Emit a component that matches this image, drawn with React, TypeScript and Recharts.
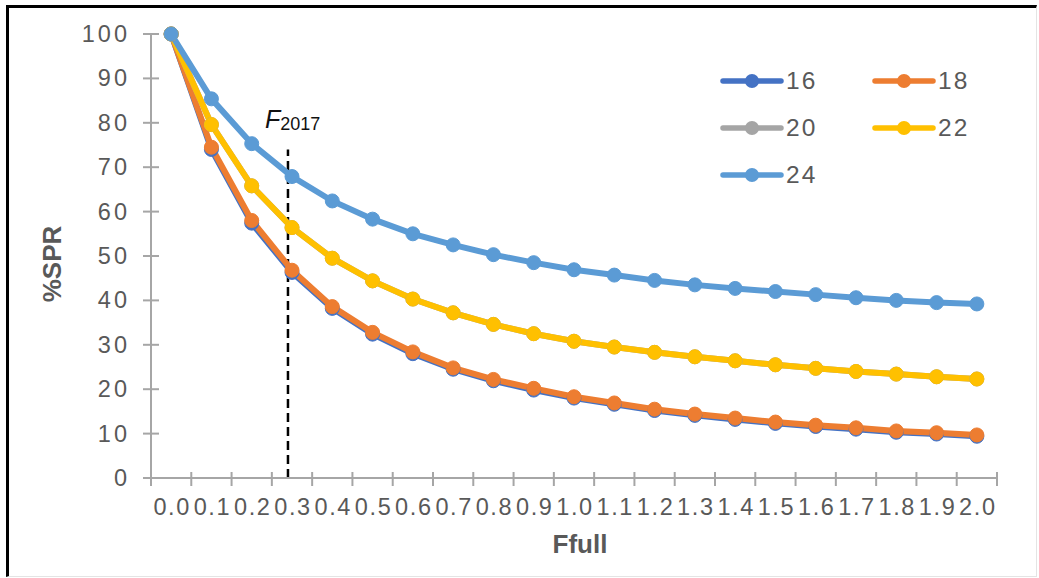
import { Legend, Line, LineChart, ReferenceLine, XAxis, YAxis } from 'recharts'

const fLabels = [
  '0.0', '0.1', '0.2', '0.3', '0.4', '0.5', '0.6', '0.7', '0.8', '0.9', '1.0',
  '1.1', '1.2', '1.3', '1.4', '1.5', '1.6', '1.7', '1.8', '1.9', '2.0',
]

const spr16 = [100, 74.0, 57.4, 46.3, 38.2, 32.4, 28.0, 24.5, 21.9, 19.8, 18.0, 16.6, 15.2, 14.1, 13.2, 12.3, 11.6, 11.0, 10.3, 9.9, 9.4]
const spr18 = [100, 74.5, 58.0, 46.8, 38.6, 32.8, 28.4, 24.8, 22.2, 20.2, 18.3, 16.9, 15.5, 14.4, 13.5, 12.6, 11.9, 11.3, 10.6, 10.2, 9.7]
const spr20 = [100, 79.6, 65.8, 56.4, 49.5, 44.4, 40.3, 37.2, 34.6, 32.5, 30.8, 29.5, 28.3, 27.3, 26.4, 25.5, 24.7, 24.0, 23.4, 22.8, 22.3]
const spr22 = [100, 79.6, 65.8, 56.4, 49.5, 44.4, 40.3, 37.2, 34.6, 32.5, 30.8, 29.5, 28.3, 27.3, 26.4, 25.5, 24.7, 24.0, 23.4, 22.8, 22.3]
const spr24 = [100, 85.4, 75.3, 67.9, 62.4, 58.3, 55.0, 52.5, 50.3, 48.5, 46.9, 45.7, 44.5, 43.5, 42.7, 42.0, 41.3, 40.6, 40.0, 39.5, 39.2]

const seriesNames = ['16', '18', '20', '22', '24']
const seriesValues = [spr16, spr18, spr20, spr22, spr24]
const seriesColors = ['#4472C4', '#ED7D31', '#A5A5A5', '#FFC000', '#5B9BD5']

const yTicks = [0, 10, 20, 30, 40, 50, 60, 70, 80, 90, 100]
const f2017 = 0.29
const f2017Top = 74

const data = fLabels.map((label, i) => {
  const row: Record<string, number | string> = { f: Number(label), label }
  seriesNames.forEach((name, s) => {
    row[`s${name}`] = seriesValues[s][i]
  })
  return row
})

const W = 1039
const H = 578
const AXIS = '#A6A6A6'
const TEXT = '#595959'
const FONT = '"Liberation Sans", Arial, sans-serif'
const PLOT_W = W - 151 - 42
const HALF = PLOT_W / fLabels.length / 2

function XTick({ x, y, index }: { x: number; y: number; index: number }) {
  const last = index === fLabels.length - 1
  return (
    <g>
      <line x1={x - HALF} x2={x - HALF} y1={y - 6} y2={y + 8} stroke={AXIS} strokeWidth={2} />
      {last && <line x1={x + HALF} x2={x + HALF} y1={y - 6} y2={y + 8} stroke={AXIS} strokeWidth={2} />}
      <text x={x + 1} y={y + 37} textAnchor="middle" fontSize={23.5} letterSpacing={1.6} fill={TEXT} fontFamily={FONT}>
        {fLabels[index]}
      </text>
    </g>
  )
}

function YTick({ x, y, payload }: { x: number; y: number; payload: { value: number } }) {
  return (
    <g>
      <line x1={x - 8} x2={x + 8} y1={y} y2={y} stroke={AXIS} strokeWidth={2} />
      <text x={x - 21} y={y + 8} textAnchor="end" fontSize={23.5} letterSpacing={3} fill={TEXT} fontFamily={FONT}>
        {payload.value}
      </text>
    </g>
  )
}

function SeriesLegend() {
  return (
    <div style={{ display: 'grid', gridTemplateColumns: '152px 152px', fontFamily: FONT }}>
      {seriesNames.map((name, i) => (
        <div key={name} style={{ display: 'flex', alignItems: 'center', height: 47 }}>
          <svg width={64} height={16}>
            <line x1={3} x2={61} y1={8} y2={8} stroke={seriesColors[i]} strokeWidth={5.5} strokeLinecap="round" />
            <circle cx={32} cy={8} r={7} fill={seriesColors[i]} />
          </svg>
          <span style={{ fontSize: 24.5, color: TEXT, marginLeft: 2, letterSpacing: 2 }}>{name}</span>
        </div>
      ))}
    </div>
  )
}

export default function App() {
  return (
    <div style={{ position: 'absolute', left: 0, top: 0, width: W, height: H, background: '#fff' }}>
      <LineChart width={W} height={H} data={data} margin={{ top: 34, right: 42, bottom: 0, left: 0 }}>
        <XAxis
          dataKey="f"
          type="number"
          domain={[-0.05, 2.05]}
          ticks={fLabels.map(Number)}
          interval={0}
          height={100}
          tickLine={false}
          tickSize={0}
          tickMargin={0}
          axisLine={{ stroke: AXIS, strokeWidth: 2 }}
          tick={(p: any) => <XTick {...p} />}
          label={(p: any) => (
            <text
              x={p.viewBox.x + 429}
              y={p.viewBox.y + 75}
              textAnchor="middle"
              fontSize={26}
              fontWeight="bold"
              fill={TEXT}
              fontFamily={FONT}
            >
              Ffull
            </text>
          )}
        />
        <YAxis
          width={151}
          domain={[0, 100]}
          ticks={yTicks}
          interval={0}
          tickLine={false}
          tickSize={0}
          tickMargin={0}
          axisLine={{ stroke: AXIS, strokeWidth: 2 }}
          tick={(p: any) => <YTick {...p} />}
          label={(p: any) => {
            const cx = p.viewBox.x + 61
            const cy = p.viewBox.y + 230
            return (
              <text
                x={cx}
                y={cy}
                transform={`rotate(-90 ${cx} ${cy})`}
                textAnchor="middle"
                fontSize={26}
                fontWeight="bold"
                fill={TEXT}
                fontFamily={FONT}
              >
                %SPR
              </text>
            )
          }}
        />
        <ReferenceLine
          segment={[{ x: f2017, y: 0 }, { x: f2017, y: f2017Top }]}
          stroke="#000"
          strokeWidth={2.5}
          strokeDasharray="9 5"
          label={(p: any) => (
            <text x={p.viewBox.x - 23} y={p.viewBox.y - 21} fill="#111" fontFamily={FONT}>
              <tspan fontSize={25} fontStyle="italic">F</tspan>
              <tspan fontSize={18} dy={2}>2017</tspan>
            </text>
          )}
        />
        {seriesNames.map((name, i) => (
          <Line
            key={name}
            dataKey={`s${name}`}
            name={name}
            stroke={seriesColors[i]}
            strokeWidth={6}
            dot={{ r: 7, fill: seriesColors[i], stroke: seriesColors[i], strokeWidth: 1 }}
            activeDot={false}
            isAnimationActive={false}
          />
        ))}
        <Legend
          layout="vertical"
          align="center"
          verticalAlign="middle"
          content={() => <SeriesLegend />}
          wrapperStyle={{ position: 'absolute', left: 720, top: 57, width: 310, bottom: 'auto' }}
        />
      </LineChart>
      <div
        style={{
          position: 'absolute',
          left: 6,
          top: 5,
          right: 2,
          bottom: 1,
          borderTop: '3px solid #000',
          borderLeft: '3px solid #000',
          borderRight: '1px solid #e4e4e4',
          borderBottom: '1px solid #e4e4e4',
          pointerEvents: 'none',
        }}
      />
    </div>
  )
}
